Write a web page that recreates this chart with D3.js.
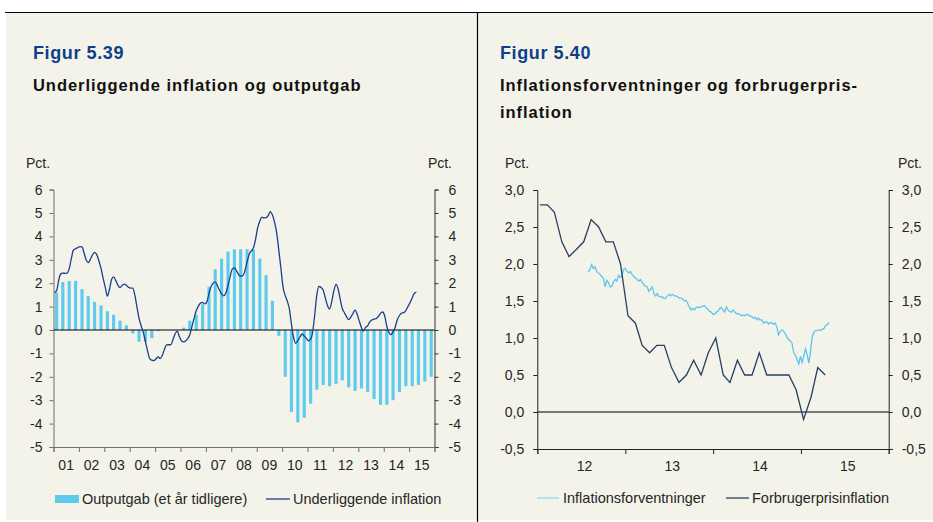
<!DOCTYPE html>
<html>
<head>
<meta charset="utf-8">
<script src="https://cdn.jsdelivr.net/npm/d3@7"></script>
<style>
  html, body { margin: 0; padding: 0; background: #ffffff; }
  svg { display: block; font-family: "Liberation Sans", Arial, sans-serif; }
</style>
</head>
<body>
<svg id="chart" width="933" height="522"></svg>
<script>
// ---------- Figur 5.39: quarterly output gap (bars), monthly core inflation (line)
const yearLabelsL = ["01","02","03","04","05","06","07","08","09","10","11","12","13","14","15"];
const yTicksL = [6,5,4,3,2,1,0,-1,-2,-3,-4,-5];

// Outputgab (et år tidligere), 2001K1 - 2015K4
const outputgab = [
  1.6, 2.05, 2.1, 2.1,
  1.75, 1.45, 1.2, 1.05,
  0.8, 0.65, 0.4, 0.2,
  -0.15, -0.5, -0.5, -0.35,
  -0.05, 0, 0, 0,
  0.1, 0.4, 0.65, 1.1,
  1.85, 2.6, 3.05, 3.35,
  3.45, 3.45, 3.45, 3.45,
  3.05, 2.35, 1.25, -0.25,
  -2.0, -3.5, -3.95, -3.75,
  -3.15, -2.55, -2.35, -2.4,
  -2.3, -2.15, -2.45, -2.6,
  -2.5, -2.65, -2.95, -3.2,
  -3.2, -3.0, -2.65, -2.4,
  -2.4, -2.35, -2.2, -2.0
];

// Underliggende inflation, monthly from January 2001
const underliggende = [
  1.6, 1.68, 2.1, 2.4, 2.43, 2.42, 2.43, 2.62, 3.06, 3.42, 3.47, 3.52,
  3.56, 3.55, 3.3, 3.0, 2.88, 3.02, 3.21, 3.32, 3.22, 2.96, 2.63, 2.22,
  1.82, 1.45, 1.72, 2.15, 2.27, 2.12, 1.92, 1.81, 1.9, 1.96, 1.91, 1.83,
  1.79, 1.79, 1.5, 0.98, 0.5, 0.17, -0.1, -0.5, -0.9, -1.22, -1.29, -1.31,
  -1.23, -1.15, -1.22, -1.08, -0.82, -0.64, -0.63, -0.63, -0.41, -0.17, -0.05, -0.28,
  -0.46, -0.51, -0.47, -0.37, -0.2, 0.15, 0.5, 0.82, 1.02, 1.15, 1.18, 1.12,
  1.2, 1.57, 1.84, 2.0, 2.06, 1.9, 1.7, 1.54, 1.46, 1.58, 1.9, 2.27,
  2.6, 2.65, 2.54, 2.37, 2.3, 2.32, 2.53, 2.9, 3.24, 3.38, 3.51, 3.87,
  4.37, 4.66, 4.82, 4.79, 4.8, 4.89, 5.06, 4.91, 4.6, 4.15, 3.4, 2.63,
  1.82, 1.47, 1.25, 0.9, 0.25, -0.33, -0.57, -0.45, -0.3, -0.17, -0.26, -0.35,
  -0.46, -0.4, -0.1, 0.65, 1.5, 1.86, 1.82, 1.7, 1.36, 1.05, 0.9, 1.2,
  1.68, 1.95, 1.77, 1.32, 0.92, 0.74, 0.57, 0.44, 0.55, 0.7, 0.86, 0.67,
  0.38, 0.1, -0.05, 0.11, 0.18, 0.35, 0.43, 0.47, 0.49, 0.57, 0.71, 0.77,
  0.6, 0.15, -0.1, -0.2, -0.08, 0.12, 0.44, 0.62, 0.72, 0.74, 0.83, 1.0,
  1.17, 1.38, 1.55, 1.62
];

// ---------- Figur 5.40: weekly inflation expectations, monthly CPI inflation
const yearLabelsR = ["12","13","14","15"];
const yTicksR = [3.0, 2.5, 2.0, 1.5, 1.0, 0.5, 0.0, -0.5];

// Forbrugerprisinflation, monthly from January 2012
const forbrugerpris = [
  2.8, 2.8, 2.7, 2.3, 2.1, 2.2, 2.3, 2.6, 2.5, 2.3, 2.3, 2.0,
  1.3, 1.2, 0.9, 0.8, 0.9, 0.9, 0.6, 0.4, 0.5, 0.7, 0.5, 0.8,
  1.0, 0.5, 0.4, 0.7, 0.5, 0.5, 0.8, 0.5, 0.5, 0.5, 0.5, 0.3,
  -0.1, 0.2, 0.6, 0.5
];

// Inflationsforventninger, weekly from 31 July 2012
const forventninger = [
  1.89, 1.93, 1.99, 1.94, 1.96, 1.90, 1.88, 1.86, 1.83, 1.81, 1.69, 1.78,
  1.75, 1.69, 1.70, 1.76, 1.79, 1.77, 1.85, 1.82, 1.84, 1.93, 1.94, 1.90,
  1.88, 1.90, 1.86, 1.83, 1.81, 1.79, 1.77, 1.79, 1.75, 1.72, 1.70, 1.69,
  1.63, 1.66, 1.69, 1.60, 1.57, 1.60, 1.56,
  1.55, 1.56, 1.53, 1.54, 1.57, 1.59, 1.57, 1.59, 1.57, 1.57, 1.56, 1.54,
  1.54, 1.53, 1.50, 1.51, 1.47, 1.42, 1.38, 1.40, 1.38, 1.41, 1.42, 1.41,
  1.42, 1.43, 1.44, 1.41, 1.39, 1.36, 1.35, 1.32, 1.32, 1.35, 1.36, 1.40,
  1.41, 1.38, 1.35, 1.42, 1.38, 1.36, 1.35, 1.38, 1.35, 1.33, 1.33, 1.32,
  1.30, 1.31, 1.30, 1.32, 1.31, 1.30, 1.29, 1.27, 1.28, 1.25, 1.27, 1.24,
  1.25, 1.20, 1.21, 1.22, 1.19, 1.21, 1.20, 1.19, 1.20, 1.15, 1.04, 1.09,
  1.11, 1.09, 1.06, 1.01, 0.98, 0.96, 0.93,
  0.80, 0.77, 0.71, 0.65, 0.75, 0.67, 0.76, 0.85, 0.77, 0.66, 0.82, 1.02,
  1.08, 1.10, 1.10, 1.11, 1.10, 1.12, 1.13, 1.17, 1.18, 1.21
];

// ---------- palette
const BG = "#f4f3ea";
const TITLE_BLUE = "#0d3f8a";
const BAR_BLUE = "#5ecbee";
const LINE_NAVY = "#1b3f8b";
const LIGHT_BLUE = "#5cc6ec";
const DARK_SLATE = "#283e62";
const TEXT = "#262626";

// plain hyphen for negative numbers
const fmtInt = v => d3.format("d")(v).replace("\u2212", "-");
const fmtDec = v => d3.format(".1f")(v).replace(".", ",").replace("\u2212", "-");

const svg = d3.select("#chart");

// page frame
svg.append("rect").attr("x", 6).attr("y", 12).attr("width", 927).attr("height", 508).attr("fill", BG);
svg.append("line").attr("x1", 5).attr("x2", 933).attr("y1", 12.5).attr("y2", 12.5)
  .attr("stroke", "#000").attr("stroke-width", 1.2);
svg.append("line").attr("x1", 477.5).attr("x2", 477.5).attr("y1", 12).attr("y2", 522)
  .attr("stroke", "#000").attr("stroke-width", 1.2);

// titles
function titles(x, fig, lines) {
  svg.append("text").attr("x", x).attr("y", 59).text(fig)
    .attr("fill", TITLE_BLUE).attr("font-weight", "bold").attr("font-size", 18)
    .attr("letter-spacing", 0.6);
  lines.forEach((t, i) => {
    svg.append("text").attr("x", x).attr("y", 91 + i * 27).text(t)
      .attr("fill", "#111").attr("font-weight", "bold").attr("font-size", 16.5)
      .attr("letter-spacing", 0.95);
  });
}
titles(33, "Figur 5.39", ["Underliggende inflation og outputgab"]);
titles(500, "Figur 5.40", ["Inflationsforventninger og forbrugerpris-", "inflation"]);

// ================= left chart =================
{
  const x = d3.scaleTime().domain([new Date(2001, 0, 1), new Date(2016, 0, 1)]).range([53.5, 434.5]);
  const y = d3.scaleLinear().domain([-5, 6]).range([447, 189.6]);
  const g = svg.append("g");
  const axisColor = "#6e6e6e";

  // left axis
  const la = g.append("g").attr("transform", `translate(${x.range()[0]},0)`)
    .call(d3.axisLeft(y).tickValues(yTicksL).tickSize(4).tickPadding(7).tickFormat(fmtInt));
  // right axis
  const ra = g.append("g").attr("transform", `translate(${x.range()[1]},0)`)
    .call(d3.axisRight(y).tickValues(yTicksL).tickSize(4).tickPadding(10).tickFormat(fmtInt));
  [la, ra].forEach(a => {
    a.select(".domain").attr("stroke", axisColor);
    a.selectAll(".tick line").attr("stroke", axisColor);
    a.selectAll("text").attr("font-size", 14).attr("fill", TEXT).attr("font-family", null);
  });
  ra.select(".domain").attr("stroke", "#333");
  ra.selectAll(".tick line").attr("stroke", "#333");

  // bottom axis: year boundaries as ticks, labels centred between them
  const yearStarts = d3.range(2001, 2017).map(yr => new Date(yr, 0, 1));
  const ba = g.append("g").attr("transform", `translate(0,${y(-5)})`)
    .call(d3.axisBottom(x).tickValues(yearStarts).tickSize(5).tickFormat(""));
  ba.select(".domain").attr("stroke", axisColor);
  ba.selectAll(".tick line").attr("stroke", axisColor);
  g.append("g").selectAll("text").data(yearLabelsL).join("text")
    .attr("x", (d, i) => x(new Date(2001 + i, 6, 2)))
    .attr("y", 470).attr("text-anchor", "middle")
    .attr("font-size", 14).attr("fill", TEXT).text(d => d);

  // bars
  const qWidth = x(new Date(2001, 3, 1)) - x(new Date(2001, 0, 1));
  const bw = qWidth * 0.5;
  g.append("g").selectAll("rect").data(outputgab).join("rect")
    .attr("x", (d, i) => x(new Date(2001, 3 * i + 1, 15)) - bw / 2)
    .attr("width", bw)
    .attr("y", d => y(Math.max(0, d)))
    .attr("height", d => Math.abs(y(d) - y(0)))
    .attr("fill", BAR_BLUE);

  // zero line
  g.append("line").attr("x1", x.range()[0]).attr("x2", x.range()[1])
    .attr("y1", y(0)).attr("y2", y(0)).attr("stroke", "#000").attr("stroke-width", 1.2);

  // core inflation line
  const line = d3.line()
    .x((d, i) => x(new Date(2001, i, 15)))
    .y(d => y(d))
    .curve(d3.curveMonotoneX);
  g.append("path").datum(underliggende).attr("d", line)
    .attr("fill", "none").attr("stroke", LINE_NAVY).attr("stroke-width", 1.3);

  // unit labels
  g.append("text").attr("x", 26).attr("y", 168).text("Pct.").attr("font-size", 14).attr("fill", TEXT);
  g.append("text").attr("x", 452).attr("y", 168).attr("text-anchor", "end").text("Pct.").attr("font-size", 14).attr("fill", TEXT);

  // legend
  g.append("rect").attr("x", 55).attr("y", 495).attr("width", 24).attr("height", 8).attr("fill", BAR_BLUE);
  g.append("text").attr("x", 82).attr("y", 504).text("Outputgab (et år tidligere)")
    .attr("font-size", 14.5).attr("fill", TEXT);
  g.append("line").attr("x1", 266).attr("x2", 290).attr("y1", 499).attr("y2", 499)
    .attr("stroke", LINE_NAVY).attr("stroke-width", 1.3);
  g.append("text").attr("x", 293).attr("y", 504).text("Underliggende inflation")
    .attr("font-size", 14.5).attr("fill", TEXT);
}

// ================= right chart =================
{
  const x = d3.scaleTime().domain([new Date(2012, 0, 1), new Date(2016, 0, 1)]).range([537.3, 888.7]);
  const y = d3.scaleLinear().domain([-0.5, 3.0]).range([449, 190]);
  const g = svg.append("g");
  const axisColor = "#222";

  const la = g.append("g").attr("transform", `translate(${x.range()[0]},0)`)
    .call(d3.axisLeft(y).tickValues(yTicksR).tickSize(4).tickPadding(9).tickFormat(fmtDec));
  const ra = g.append("g").attr("transform", `translate(${x.range()[1]},0)`)
    .call(d3.axisRight(y).tickValues(yTicksR).tickSize(4).tickPadding(9).tickFormat(fmtDec));
  [la, ra].forEach(a => {
    a.select(".domain").attr("stroke", axisColor);
    a.selectAll(".tick line").attr("stroke", axisColor);
    a.selectAll("text").attr("font-size", 14).attr("fill", TEXT).attr("font-family", null);
  });

  const yearStarts = d3.range(2012, 2017).map(yr => new Date(yr, 0, 1));
  const ba = g.append("g").attr("transform", `translate(0,${y(-0.5)})`)
    .call(d3.axisBottom(x).tickValues(yearStarts).tickSize(5).tickFormat(""));
  ba.select(".domain").attr("stroke", axisColor);
  ba.selectAll(".tick line").attr("stroke", axisColor);
  g.append("g").selectAll("text").data(yearLabelsR).join("text")
    .attr("x", (d, i) => x(new Date(2012 + i, 6, 15)))
    .attr("y", 471).attr("text-anchor", "middle")
    .attr("font-size", 14).attr("fill", TEXT).text(d => d);

  // zero line
  g.append("line").attr("x1", x.range()[0]).attr("x2", x.range()[1])
    .attr("y1", y(0)).attr("y2", y(0)).attr("stroke", "#000").attr("stroke-width", 1.2);

  // expectations (weekly)
  const start = new Date(2012, 6, 31);
  const weekly = d3.line()
    .x((d, i) => x(d3.timeDay.offset(start, 7 * i)))
    .y(d => y(d));
  g.append("path").datum(forventninger).attr("d", weekly)
    .attr("fill", "none").attr("stroke", LIGHT_BLUE).attr("stroke-width", 1.3);

  // CPI inflation (monthly)
  const monthly = d3.line()
    .x((d, i) => x(new Date(2012, i, 12)))
    .y(d => y(d));
  g.append("path").datum(forbrugerpris).attr("d", monthly)
    .attr("fill", "none").attr("stroke", DARK_SLATE).attr("stroke-width", 1.3);

  // unit labels
  g.append("text").attr("x", 505).attr("y", 168).text("Pct.").attr("font-size", 14).attr("fill", TEXT);
  g.append("text").attr("x", 922).attr("y", 168).attr("text-anchor", "end").text("Pct.").attr("font-size", 14).attr("fill", TEXT);

  // legend
  g.append("line").attr("x1", 537).attr("x2", 559).attr("y1", 498).attr("y2", 498)
    .attr("stroke", "#8fd8f0").attr("stroke-width", 1.3);
  g.append("text").attr("x", 563).attr("y", 503).text("Inflationsforventninger")
    .attr("font-size", 14.5).attr("fill", TEXT);
  g.append("line").attr("x1", 726).attr("x2", 749).attr("y1", 498).attr("y2", 498)
    .attr("stroke", DARK_SLATE).attr("stroke-width", 1.3);
  g.append("text").attr("x", 752).attr("y", 503).text("Forbrugerprisinflation")
    .attr("font-size", 14.5).attr("fill", TEXT);
}
</script>
</body>
</html>
